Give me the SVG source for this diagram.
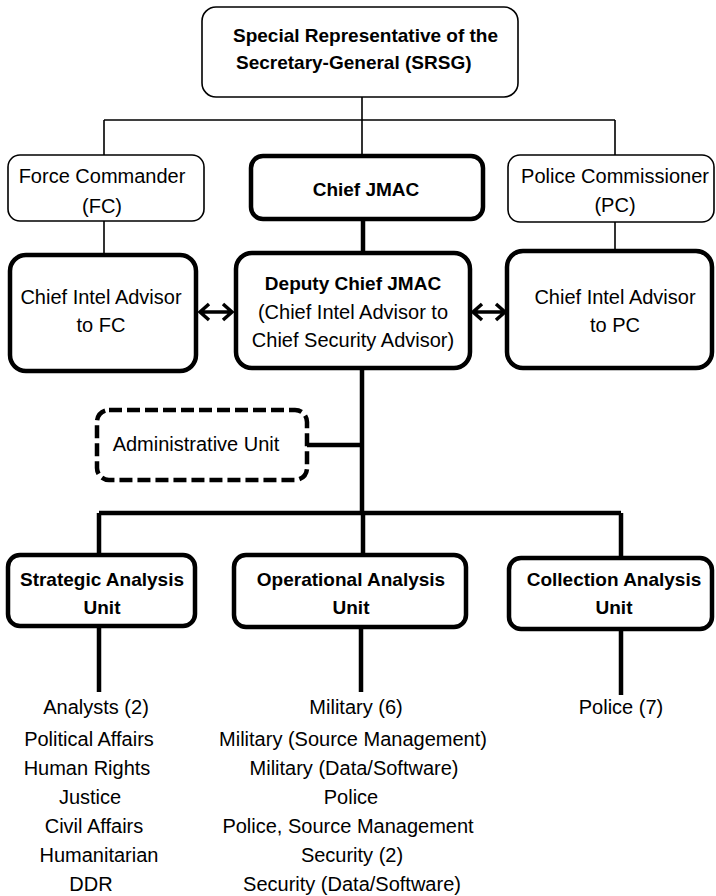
<svg xmlns="http://www.w3.org/2000/svg" width="716" height="896" viewBox="0 0 716 896">
<style>
  .thin { fill: #fff; stroke: #000; stroke-width: 1.6; }
  .thick { fill: #fff; stroke: #000; stroke-width: 4.5; }
  .dash { fill: #fff; stroke: #000; stroke-width: 4.5; stroke-dasharray: 13 5; }
  .t { font-family: "Liberation Sans", Arial, sans-serif; font-size: 20px; fill: #000; text-anchor: middle; }
  .b { font-family: "Liberation Sans", Arial, sans-serif; font-size: 19px; font-weight: bold; fill: #000; text-anchor: middle; }
  .lt { stroke: #000; stroke-width: 1.6; fill: none; }
  .lk { stroke: #000; stroke-width: 4.5; fill: none; }
  .arr { stroke: #000; stroke-width: 3.5; fill: none; }
</style>
<rect width="716" height="896" fill="#fff"/>
<g id="connectors">
  <path class="lt" d="M362 97 V120 M104 120 H615 M104 120 V155 M362 120 V156 M615 120 V155"/>
  <path class="lt" d="M104 221 V254 M615 222 V251"/>
  <path class="lk" d="M363 219 V253"/>
  <path class="lk" d="M362 368 V513 M307 445 H362 M99 513 H621 M99 513 V555 M363 513 V555 M621 513 V558"/>
  <path class="lk" d="M99 626 V692 M361 627 V692 M621 629 V695"/>
  <path class="arr" d="M200 312 H232 M209 304 L200 312 L209 320 M223 304 L232 312 L223 320"/>
  <path class="arr" d="M473 312 H505 M482 304 L473 312 L482 320 M496 304 L505 312 L496 320"/>
</g>
<g id="srsg">
  <rect class="thin" x="202" y="7" width="316" height="90" rx="14"/>
  <text class="b" style="text-anchor:start" x="233" y="42">Special Representative of the</text>
  <text class="b" style="text-anchor:start" x="236" y="69">Secretary-General (SRSG)</text>
</g>
<g id="fc">
  <rect class="thin" x="8" y="155" width="196" height="66" rx="12"/>
  <text class="t" x="102" y="183">Force Commander</text>
  <text class="t" x="102" y="213">(FC)</text>
</g>
<g id="chief-jmac">
  <rect class="thick" x="251" y="156" width="232" height="63" rx="12"/>
  <text class="b" x="366" y="196">Chief JMAC</text>
</g>
<g id="pc">
  <rect class="thin" x="508" y="155" width="206" height="67" rx="12"/>
  <text class="t" x="615" y="183">Police Commissioner</text>
  <text class="t" x="615" y="212">(PC)</text>
</g>
<g id="intel-fc">
  <rect class="thick" x="10" y="255" width="186" height="116" rx="16"/>
  <text class="t" x="101" y="304">Chief Intel Advisor</text>
  <text class="t" x="101" y="332">to FC</text>
</g>
<g id="deputy">
  <rect class="thick" x="236" y="253" width="234" height="115" rx="16"/>
  <text class="b" x="353" y="290">Deputy Chief JMAC</text>
  <text class="t" x="353" y="319">(Chief Intel Advisor to</text>
  <text class="t" x="353" y="347">Chief Security Advisor)</text>
</g>
<g id="intel-pc">
  <rect class="thick" x="507" y="251" width="205" height="117" rx="16"/>
  <text class="t" x="615" y="304">Chief Intel Advisor</text>
  <text class="t" x="615" y="332">to PC</text>
</g>
<g id="admin">
  <rect class="dash" x="97" y="410" width="210" height="70" rx="12"/>
  <text class="t" x="196" y="451">Administrative Unit</text>
</g>
<g id="strategic">
  <rect class="thick" x="8" y="555" width="187" height="71" rx="12"/>
  <text class="b" x="102" y="586">Strategic Analysis</text>
  <text class="b" x="102" y="614">Unit</text>
</g>
<g id="operational">
  <rect class="thick" x="234" y="555" width="232" height="72" rx="12"/>
  <text class="b" x="351" y="586">Operational Analysis</text>
  <text class="b" x="351" y="614">Unit</text>
</g>
<g id="collection">
  <rect class="thick" x="509" y="558" width="203" height="71" rx="12"/>
  <text class="b" x="614" y="586">Collection Analysis</text>
  <text class="b" x="614" y="614">Unit</text>
</g>
<g id="strategic-list">
  <text class="t" x="96" y="714">Analysts (2)</text>
  <text class="t" x="89" y="746">Political Affairs</text>
  <text class="t" x="87" y="775">Human Rights</text>
  <text class="t" x="90" y="804">Justice</text>
  <text class="t" x="94" y="833">Civil Affairs</text>
  <text class="t" x="99" y="862">Humanitarian</text>
  <text class="t" x="91" y="891">DDR</text>
</g>
<g id="operational-list">
  <text class="t" x="356" y="714">Military (6)</text>
  <text class="t" x="353" y="746">Military (Source Management)</text>
  <text class="t" x="354" y="775">Military (Data/Software)</text>
  <text class="t" x="351" y="804">Police</text>
  <text class="t" x="348" y="833">Police, Source Management</text>
  <text class="t" x="352" y="862">Security (2)</text>
  <text class="t" x="352" y="891">Security (Data/Software)</text>
</g>
<g id="collection-list">
  <text class="t" x="621" y="714">Police (7)</text>
</g>
</svg>
